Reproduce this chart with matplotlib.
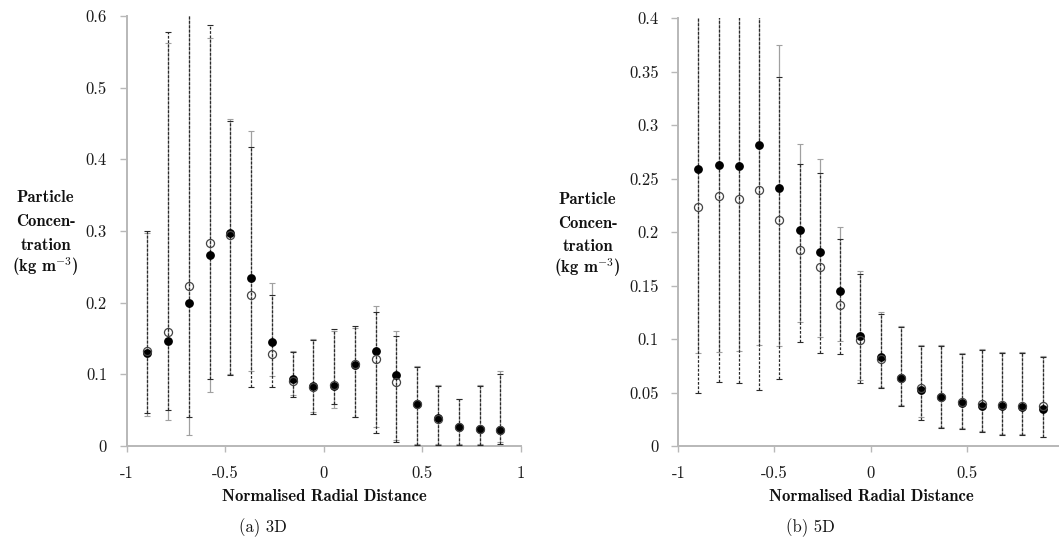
import matplotlib
matplotlib.use("Agg")
import matplotlib.pyplot as plt

plt.rcParams["font.family"] = "cmr10"
plt.rcParams["mathtext.fontset"] = "cm"
plt.rcParams["axes.unicode_minus"] = False

# radial sampling positions (same for both heights)
x_pos = [-0.895, -0.79, -0.684, -0.579, -0.474, -0.368, -0.263, -0.158, -0.053,
         0.053, 0.158, 0.263, 0.368, 0.474, 0.579, 0.684, 0.79, 0.895]

# ---- 3D ----
c3_fill = [0.130, 0.146, 0.199, 0.266, 0.297, 0.235, 0.145, 0.093, 0.084,
           0.084, 0.113, 0.133, 0.099, 0.058, 0.039, 0.027, 0.024, 0.022]
c3_fill_lo = [0.042, 0.036, 0.015, 0.076, 0.101, 0.105, 0.098, 0.071, 0.047,
              0.053, 0.040, 0.027, 0.009, 0.003, 0.003, 0.003, 0.003, 0.005]
c3_fill_hi = [0.297, 0.563, 0.650, 0.570, 0.456, 0.439, 0.227, 0.132, 0.150,
              0.161, 0.164, 0.195, 0.161, 0.111, 0.085, 0.066, 0.085, 0.104]
c3_open = [0.132, 0.159, 0.223, 0.283, 0.294, 0.211, 0.128, 0.091, 0.083,
           0.085, 0.115, 0.122, 0.090, 0.058, 0.038, 0.027, 0.024, 0.023]
c3_open_lo = [0.046, 0.050, 0.040, 0.093, 0.099, 0.083, 0.082, 0.069, 0.045,
              0.058, 0.041, 0.018, 0.005, 0.002, 0.002, 0.002, 0.002, 0.003]
c3_open_hi = [0.300, 0.577, 0.650, 0.587, 0.454, 0.417, 0.211, 0.131, 0.148,
              0.163, 0.167, 0.187, 0.154, 0.110, 0.084, 0.065, 0.084, 0.100]

# ---- 5D ----
c5_fill = [0.259, 0.263, 0.262, 0.281, 0.241, 0.202, 0.181, 0.145, 0.103,
           0.083, 0.064, 0.052, 0.0455, 0.040, 0.037, 0.037, 0.036, 0.035]
c5_fill_lo = [0.087, 0.088, 0.089, 0.094, 0.093, 0.116, 0.102, 0.098, 0.062,
              0.055, 0.038, 0.027, 0.018, 0.017, 0.014, 0.011, 0.011, 0.008]
c5_fill_hi = [0.450, 0.450, 0.450, 0.470, 0.375, 0.282, 0.268, 0.205, 0.164,
              0.125, 0.112, 0.094, 0.094, 0.087, 0.091, 0.088, 0.088, 0.084]
c5_open = [0.223, 0.234, 0.231, 0.239, 0.211, 0.183, 0.167, 0.132, 0.099,
           0.081, 0.064, 0.054, 0.0455, 0.041, 0.039, 0.038, 0.037, 0.037]
c5_open_lo = [0.050, 0.060, 0.059, 0.052, 0.063, 0.097, 0.087, 0.086, 0.059,
              0.054, 0.037, 0.024, 0.017, 0.016, 0.013, 0.010, 0.010, 0.008]
c5_open_hi = [0.420, 0.430, 0.430, 0.430, 0.345, 0.264, 0.255, 0.193, 0.161,
              0.123, 0.111, 0.093, 0.093, 0.086, 0.090, 0.087, 0.087, 0.083]

x3_ticks = [-1, -0.5, 0, 0.5, 1]
x3_ticklabels = ["-1", "-0.5", "0", "0.5", "1"]
x5_ticks = [-1, -0.5, 0, 0.5]
x5_ticklabels = ["-1", "-0.5", "0", "0.5"]
y3_ticks = [0, 0.1, 0.2, 0.3, 0.4, 0.5, 0.6]
y3_ticklabels = ["0", "0.1", "0.2", "0.3", "0.4", "0.5", "0.6"]
y5_ticks = [0, 0.05, 0.1, 0.15, 0.2, 0.25, 0.3, 0.35, 0.4]
y5_ticklabels = ["0", "0.05", "0.1", "0.15", "0.2", "0.25", "0.3", "0.35", "0.4"]

ylabel_lines = ["Particle", "Concen-", "tration", r"(kg m$^{\mathbf{-3}}$)"]

AXIS_GREY = "#b8b8b8"
W, H = 1059, 537


def panel(ax, mf, mf_lo, mf_hi, mo, mo_lo, mo_hi, xticks, xlabels, yticks, ylabels, ymax):
    err_f = [[m - l for m, l in zip(mf, mf_lo)], [h - m for m, h in zip(mf, mf_hi)]]
    err_o = [[m - l for m, l in zip(mo, mo_lo)], [h - m for m, h in zip(mo, mo_hi)]]
    ax.errorbar(x_pos, mf, yerr=err_f, fmt="none", ecolor="#a0a0a0",
                elinewidth=0.9, capsize=2.5, capthick=0.8, zorder=2)
    eb = ax.errorbar(x_pos, mo, yerr=err_o, fmt="none", ecolor="#2a2a2a",
                     elinewidth=0.9, capsize=2.5, capthick=0.8, zorder=3)
    eb[2][0].set_linestyle((0, (2.2, 1.3)))
    ax.plot(x_pos, mf, "o", color="black", ms=5.3, zorder=4)
    ax.plot(x_pos, mo, "o", mfc="none", mec="#444444", mew=0.9, ms=5.8, zorder=5)

    ax.set_xlim(-1, 1)
    ax.set_ylim(0, ymax)
    ax.set_xticks(xticks)
    ax.set_xticklabels(xlabels)
    ax.set_yticks(yticks)
    ax.set_yticklabels(ylabels)
    ax.spines[["top", "right"]].set_visible(False)
    for s in ("left", "bottom"):
        ax.spines[s].set_color(AXIS_GREY)
        ax.spines[s].set_linewidth(1.4)
    ax.tick_params(axis="y", colors=AXIS_GREY, labelcolor="#1a1a1a",
                   length=5, width=1, labelsize=12, pad=9)
    ax.tick_params(axis="x", colors=AXIS_GREY, labelcolor="#1a1a1a",
                   length=4.5, width=1, labelsize=12, pad=10)
    ax.patch.set_visible(False)


fig = plt.figure(figsize=(W / 100, H / 100), dpi=100)
ax1 = fig.add_axes([126.5 / W, 91 / H, 394.5 / W, 430 / H])
ax2 = fig.add_axes([678.3 / W, 91 / H, 384.5 / W, 428 / H])

panel(ax1, c3_fill, c3_fill_lo, c3_fill_hi, c3_open, c3_open_lo, c3_open_hi,
      x3_ticks, x3_ticklabels, y3_ticks, y3_ticklabels, 0.6)
panel(ax2, c5_fill, c5_fill_lo, c5_fill_hi, c5_open, c5_open_lo, c5_open_hi,
      x5_ticks, x5_ticklabels, y5_ticks, y5_ticklabels, 0.4)

# stacked y labels, x labels and sub-captions
for cx, ys in ((45.5, [198, 222, 245, 267]), (587.5, [199, 223, 246, 268])):
    for txt, yy in zip(ylabel_lines, ys):
        fig.text(cx / W, 1 - yy / H, txt, ha="center", va="center",
                 family="cmb10", fontsize=12, color="#111111")

for cx in (324, 871):
    fig.text(cx / W, 1 - 496.7 / H, "Normalised Radial Distance", ha="center",
             va="center", family="cmb10", fontsize=12, color="#111111")

fig.text(262.5 / W, 1 - 527.3 / H, "(a) 3D", ha="center", va="center",
         fontsize=12, color="#111111")
fig.text(810 / W, 1 - 527.3 / H, "(b) 5D", ha="center", va="center",
         fontsize=12, color="#111111")

fig.savefig("out.png", dpi=100, facecolor="white")
